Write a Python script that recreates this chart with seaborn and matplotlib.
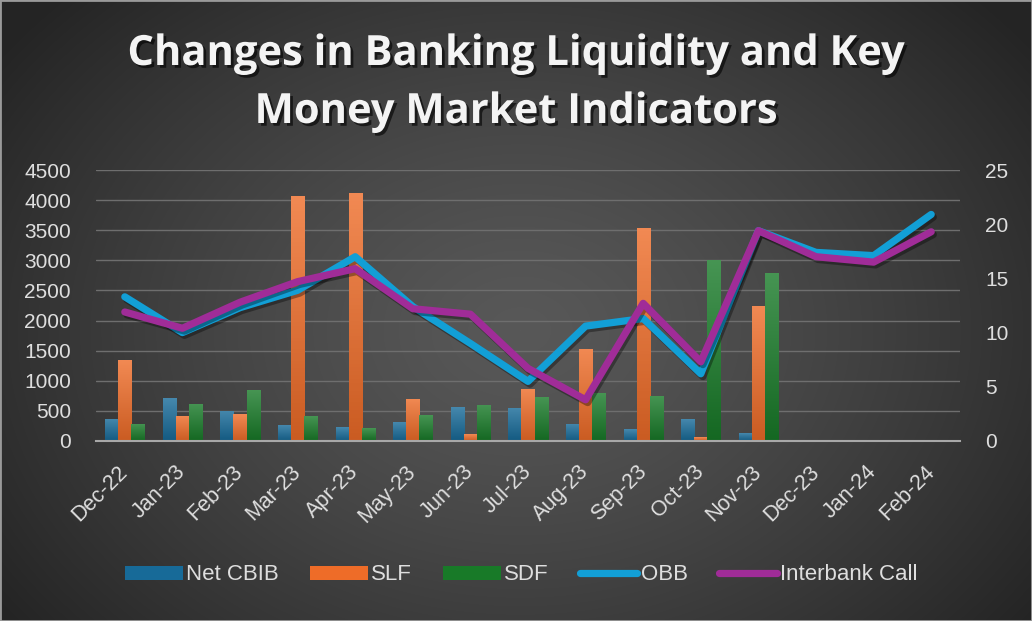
import numpy as np
import pandas as pd
import matplotlib
matplotlib.use("Agg")
import matplotlib.pyplot as plt
import matplotlib.patheffects as pe
from matplotlib.patches import Patch, Rectangle
from matplotlib.lines import Line2D
from matplotlib.colors import to_rgb
import seaborn as sns

# ── data ──────────────────────────────────────────────────────
months = ["Dec-22", "Jan-23", "Feb-23", "Mar-23", "Apr-23", "May-23", "Jun-23",
          "Jul-23", "Aug-23", "Sep-23", "Oct-23", "Nov-23", "Dec-23", "Jan-24", "Feb-24"]
net_cbib = [370, 710, 505, 260, 225, 315, 560, 550, 290, 195, 365, 130, np.nan, np.nan, np.nan]
slf = [1340, 420, 445, 4060, 4110, 705, 110, 865, 1535, 3530, 65, 2250, np.nan, np.nan, np.nan]
sdf = [290, 620, 845, 410, 215, 425, 605, 730, 795, 750, 3005, 2795, np.nan, np.nan, np.nan]
obb = [13.3, 10.0, 12.3, 13.9, 17.0, 12.4, 9.0, 5.5, 10.6, 11.3, 6.2, 19.4, 17.4, 17.1, 20.9]
interbank_call = [11.9, 10.4, 12.8, 14.7, 15.9, 12.2, 11.7, 6.7, 3.8, 12.7, 7.3, 19.4, 17.0, 16.5, 19.3]

bar_names = ["Net CBIB", "SLF", "SDF"]
bar_colors = {"Net CBIB": "#176a98", "SLF": "#ee6c28", "SDF": "#187a28"}
OBB_COLOR = "#129fd6"
CALL_COLOR = "#a02c98"
TEXT = "#dedede"

bars = pd.DataFrame({
    "Month": months * 3,
    "Series": np.repeat(bar_names, len(months)),
    "Value": net_cbib + slf + sdf,
})

sns.set_theme(style="dark")
plt.rcParams["font.family"] = ["Liberation Sans", "DejaVu Sans"]

W, H = 1032, 621
fig = plt.figure(figsize=(W / 100, H / 100), dpi=100)

# ── radial gradient background ───────────────────────────────
bg = fig.add_axes([0, 0, 1, 1], zorder=-10)
yy, xx = np.mgrid[0:H, 0:W]
d = np.sqrt(((xx - 520) / (W * 0.62)) ** 2 + ((yy - 330) / (H * 0.78)) ** 2)
d = np.clip(d, 0, 1)
shade = (88 - 52 * d ** 1.3) / 255
bg.imshow(np.dstack([shade] * 3), aspect="auto", extent=[0, 1, 0, 1])
bg.set_axis_off()
fig.patches.append(Rectangle((0, 0), 1, 1, transform=fig.transFigure, fill=False,
                             edgecolor="#9a9a9a", lw=2))

# ── bars ─────────────────────────────────────────────────────
ax = fig.add_axes([96 / W, 1 - 441 / H, (960 - 96) / W, (441 - 170) / H])
ax.set_facecolor("none")
sns.barplot(data=bars, x="Month", y="Value", hue="Series", order=months,
            hue_order=bar_names, palette=bar_colors, width=0.68, saturation=1,
            linewidth=0, legend=False, ax=ax)

# vertical gradient inside each bar (lighter top, darker bottom)
for bar in list(ax.patches):
    h = bar.get_height()
    if not np.isfinite(h) or h <= 0:
        continue
    x0, w = bar.get_x(), bar.get_width()
    c = np.array(to_rgb(bar.get_facecolor()))
    t = np.linspace(0, 1, 64)[:, None]
    top = c + (1 - c) * 0.2
    bot = c * 0.85
    grad = bot + (top - bot) * t
    im = ax.imshow(grad[:, None, :], extent=[x0, x0 + w, 0, h], origin="lower",
                   aspect="auto", zorder=bar.get_zorder() + 0.1)
    im.set_clip_path(bar)

ax.set_xlim(-0.5, len(months) - 0.5)
ax.set_ylim(0, 4500)
ax.set_yticks(np.arange(0, 4501, 500))
ax.set_axisbelow(True)
ax.grid(axis="y", color="#6e6e6e", lw=1)
ax.grid(axis="x", visible=False)
ax.set_xlabel("")
ax.set_ylabel("")
for s in ["top", "left", "right"]:
    ax.spines[s].set_visible(False)
ax.spines["bottom"].set_color("#a8a8a8")
ax.spines["bottom"].set_linewidth(1.5)
ax.set_xticks(np.arange(-0.5, len(months), 1), minor=True)
ax.tick_params(axis="x", which="minor", length=7, width=1.5, color="#a8a8a8", direction="out")
ax.tick_params(axis="x", which="major", length=0, pad=20, labelsize=15.5, labelcolor=TEXT)
ax.tick_params(axis="y", length=0, pad=18, labelsize=15, labelcolor=TEXT)
for lab in ax.get_xticklabels():
    lab.set_rotation(45)
    lab.set_ha("right")
    lab.set_va("center")
    lab.set_rotation_mode("anchor")

# ── lines on the right axis ──────────────────────────────────
ax2 = ax.twinx()
ax2.set_facecolor("none")
xpos = np.arange(len(months))
shadow = [pe.SimpleLineShadow(offset=(1.5, -2), shadow_color="black", alpha=0.35), pe.Normal()]
sns.lineplot(x=xpos, y=obb, ax=ax2, color=OBB_COLOR, lw=5.2, solid_capstyle="round",
             path_effects=shadow)
sns.lineplot(x=xpos, y=interbank_call, ax=ax2, color=CALL_COLOR, lw=5.2,
             solid_capstyle="round", path_effects=shadow)
ax2.set_ylim(0, 25)
ax2.set_yticks(np.arange(0, 26, 5))
ax2.grid(False)
for s in ax2.spines.values():
    s.set_visible(False)
ax2.tick_params(axis="y", length=0, pad=18, labelsize=15, labelcolor=TEXT)
ax.set_xlim(-0.5, len(months) - 0.5)

# ── title ────────────────────────────────────────────────────
title_fx = [pe.withSimplePatchShadow(offset=(2, -2), shadow_rgbFace="black", alpha=0.6)]
for txt, ybase in [("Changes in Banking Liquidity and Key", 65),
                   ("Money Market Indicators", 123)]:
    fig.text(0.5, 1 - ybase / H, txt, ha="center", va="baseline", fontsize=30,
             fontweight="bold", family=["Open Sans", "DejaVu Sans"], color="#f4f4f4",
             path_effects=title_fx)

# ── legend ───────────────────────────────────────────────────
handles = [Patch(facecolor=bar_colors[n], edgecolor="none", label=n) for n in bar_names]
handles += [Line2D([], [], color=OBB_COLOR, lw=5.2, solid_capstyle="round", label="OBB"),
            Line2D([], [], color=CALL_COLOR, lw=5.2, solid_capstyle="round", label="Interbank Call")]
leg = fig.legend(handles=handles, loc="center", bbox_to_anchor=(0.505, 1 - 575 / H),
                 ncol=5, frameon=False, fontsize=16, handlelength=2.6, handleheight=0.6,
                 handletextpad=0.15, columnspacing=1.4)
for t in leg.get_texts():
    t.set_color(TEXT)

fig.savefig("out.png", dpi=100)
